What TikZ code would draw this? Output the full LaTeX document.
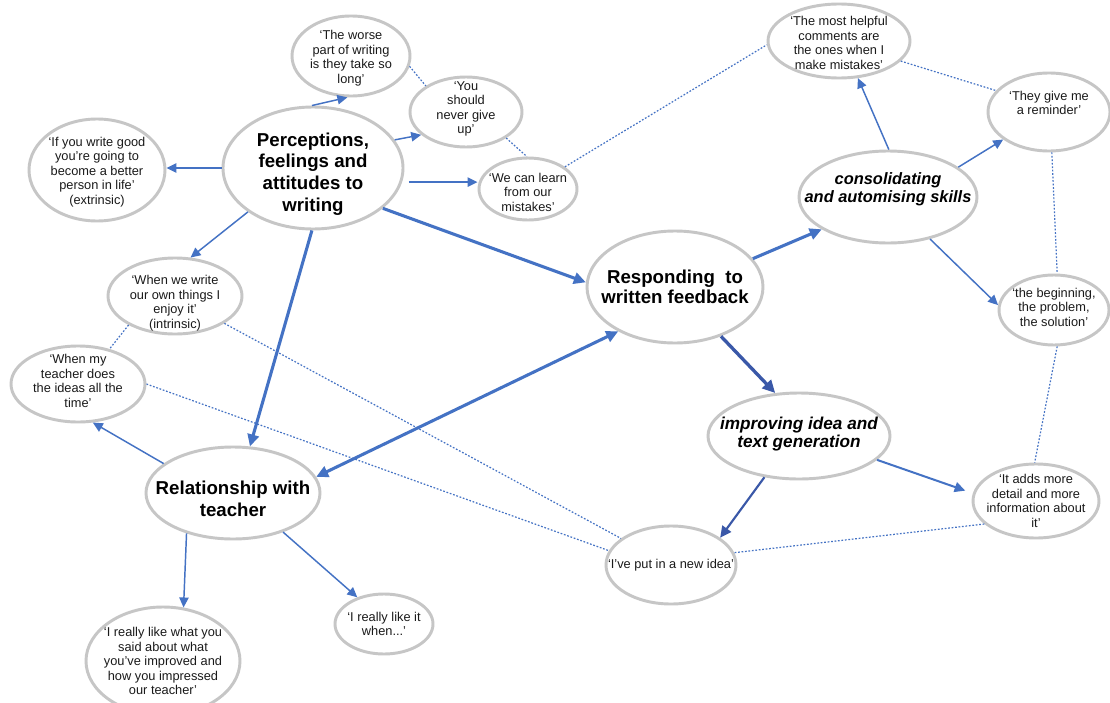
\documentclass[tikz,border=0pt]{standalone}
\usepackage{fontspec}
\setmainfont{Liberation Sans}
\usetikzlibrary{shapes.geometric,arrows.meta}
\definecolor{bubgray}{HTML}{C6C6C6}
\definecolor{linkblue}{HTML}{4472C4}
\definecolor{deepblue}{HTML}{3A58A8}
\definecolor{quoteink}{HTML}{1A1A1A}
\begin{document}
\begin{tikzpicture}[x=0.75pt,y=-0.75pt,
  bub/.style 2 args={ellipse, draw=bubgray, line width=2.2pt, fill=white,
    inner sep=0pt, minimum width=#1*1.5pt, minimum height=#2*1.5pt},
  quote/.style={align=center, font=\fontsize{9.6}{10.9}\selectfont,
    text=quoteink, inner sep=0pt},
  theme/.style={align=center, font=\fontsize{14}{16.3}\selectfont\bfseries,
    inner sep=0pt},
  subtheme/.style={align=center,
    font=\fontsize{12.3}{13.6}\selectfont\bfseries\itshape, inner sep=0pt},
  lnk/.style={draw=linkblue, line width=1.1pt,
    -{Triangle[length=7.5pt,width=7pt]}},
  lnkmid/.style={draw=linkblue, line width=1.5pt,
    -{Triangle[length=8pt,width=7.5pt]}},
  lnkbold/.style={draw=linkblue, line width=2.3pt,
    -{Triangle[length=9pt,width=8.5pt]}},
  lnkdeep/.style={draw=deepblue, line width=2.5pt,
    -{Triangle[length=9.5pt,width=9pt]}},
  lnkdeepmid/.style={draw=deepblue, line width=1.6pt,
    -{Triangle[length=8.5pt,width=8pt]}},
  dotlink/.style={draw=linkblue, line width=0.9pt,
    dash pattern=on 1.3pt off 1.3pt}
]
\fill[white] (0,0) rectangle (1110,703);
\useasboundingbox (0,0) rectangle (1110,703);

% ---- bubbles ----
\node[bub={90}{61}] (perc) at (313,168) {};
\node[theme] (perc-t) at (313,174) {Perceptions,\\feelings and\\attitudes to\\writing};

\node[bub={59}{40}] (worse) at (351,56) {};
\node[quote] (worse-t) at (351,58) {‘The worse\\part of writing\\is they take so\\long’};

\node[bub={56}{35}] (never) at (466,112) {};
\node[quote] (never-t) at (466,109) {‘You\\should\\never give\\up’};

\node[bub={49}{31}] (learn) at (528,189) {};
\node[quote] (learn-t) at (528,192) {‘We can learn\\from our\\mistakes’};

\node[bub={68}{51}] (good) at (97,170) {};
\node[quote] (good-t) at (97,172) {‘If you write good\\you’re going to\\become a better\\person in life’\\(extrinsic)};

\node[bub={71}{37}] (helpful) at (839,41) {};
\node[quote] (helpful-t) at (839,43) {‘The most helpful\\comments are\\the ones when I\\make mistakes’};

\node[bub={61}{39}] (remind) at (1049,112) {};
\node[quote] (remind-t) at (1049,103) {‘They give me\\a reminder’};

\node[bub={89}{46}] (consol) at (888,197) {};
\node[subtheme] (consol-t) at (888,189) {consolidating\\and automising skills};

\node[bub={88}{56}] (resp) at (675,287) {};
\node[theme, font=\fontsize{14}{15.2}\selectfont\bfseries] (resp-t) at (675,287) {Responding\ \ to\\written feedback};

\node[bub={55}{35}] (begin) at (1054,310) {};
\node[quote] (begin-t) at (1054,307) {‘the beginning,\\the problem,\\the solution’};

\node[bub={67}{38}] (enjoy) at (175,296) {};
\node[quote] (enjoy-t) at (175,303) {‘When we write\\our own things I\\enjoy it’\\(intrinsic)};

\node[bub={67}{38}] (ideas) at (78,384) {};
\node[quote] (ideas-t) at (78,381) {‘When my\\teacher does\\the ideas all the\\time’};

\node[bub={91}{43}] (improv) at (799,436) {};
\node[subtheme, font=\fontsize{12.9}{14}\selectfont\bfseries\itshape] (improv-t) at (799,434) {improving idea and\\text generation};

\node[bub={63}{37}] (adds) at (1036,501) {};
\node[quote] (adds-t) at (1036,501) {‘It adds more\\detail and more\\information about\\it’};

\node[bub={87}{46}] (rel) at (233,493) {};
\node[theme, font=\fontsize{14}{16.5}\selectfont\bfseries] (rel-t) at (233,499) {Relationship with\\teacher};

\node[bub={65}{39}] (newidea) at (671,565) {};
\node[quote] (newidea-t) at (671,565) {‘I’ve put in a new idea’};

\node[bub={49}{30}] (likewhen) at (384,624) {};
\node[quote] (likewhen-t) at (384,624) {‘I really like it\\when...’};

\node[bub={77}{54}] (likewhat) at (163,661) {};
\node[quote] (likewhat-t) at (163,661) {‘I really like what you\\said about what\\you’ve improved and\\how you impressed\\our teacher’};

% ---- dotted cross-links between quotes ----
\draw[dotlink] (worse.-10) -- (never.147);
\draw[dotlink] (never.-33) -- (learn.92);
\draw[dotlink] (learn.31) -- (helpful.183);
\draw[dotlink] (helpful.-18) -- (remind.158);
\draw[dotlink] (remind.-86) -- (begin.85);
\draw[dotlink] (begin.-85) -- (adds.92);
\draw[dotlink] (adds.204) -- (newidea.11);
\draw[dotlink] (enjoy.212) -- (ideas.48);
\draw[dotlink] (enjoy.-29) -- (newidea.152);
\draw[dotlink] (ideas.0) -- (newidea.167);

% ---- arrows from the themes ----
\draw[lnk] (perc.91) -- (worse.-95);
\draw[lnk] (perc.19) -- (never.207);
\draw[lnk] (perc.180) -- (perc.180 -| good.east);
\draw[lnk, shorten <=5pt] (perc.-9) -- (perc.-9 -| learn.west);
\draw[lnk] (perc.214) -- (enjoy.68);
\draw[lnkbold] (perc.-91) -- (rel.70);
\draw[lnkbold] (perc.-30) -- (resp.177);
\draw[lnkbold] (resp.20) -- (consol.206);
\draw[lnkbold, {Triangle[length=9pt,width=8.5pt]}-{Triangle[length=9pt,width=8.5pt]}] (resp.218) -- (rel.11);
\draw[lnkdeep] (resp.-47) -- (improv.119);
\draw[lnk] (consol.89) -- (helpful.-63);
\draw[lnk] (consol.23) -- (remind.211);
\draw[lnk] (consol.-45) -- (begin.175);
\draw[lnkmid, shorten >=6pt] (improv.-17) -- (adds.173);
\draw[lnkdeepmid] (improv.230) -- (newidea.29);
\draw[lnk] (rel.157) -- (ideas.-69);
\draw[lnk] (rel.221) -- (likewhat.69);
\draw[lnk] (rel.-38) -- (likewhen.135);
\end{tikzpicture}
\end{document}
